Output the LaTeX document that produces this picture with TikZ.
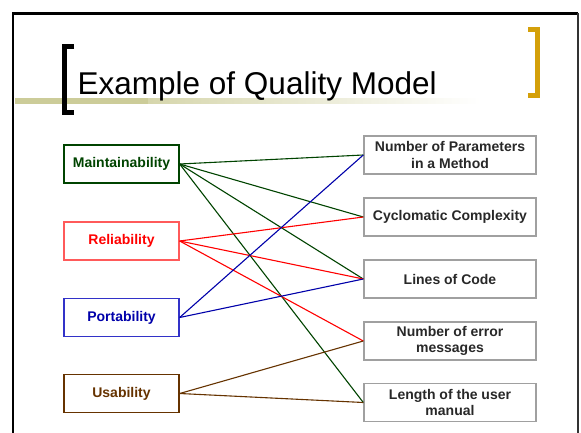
\documentclass[tikz,border=0pt]{standalone}
\usepackage{fontspec}
\setmainfont{Liberation Sans}
\begin{document}
\begin{tikzpicture}[x=1pt,y=-1pt,
  attr/.style={draw, line width=1.3pt, minimum width=115pt, minimum height=38pt,
    inner sep=0pt, font=\fontsize{14}{16.5}\selectfont\bfseries},
  metric/.style={draw=metricgray, line width=1.4pt, minimum width=172pt, minimum height=38pt,
    inner sep=0pt, align=center, text=metrictext, font=\fontsize{14}{16.5}\selectfont\bfseries},
  link/.style={line width=1.1pt}
]
\definecolor{qgreen}{RGB}{0,68,0}
\definecolor{qred}{RGB}{255,0,0}
\definecolor{qredbox}{RGB}{255,90,90}
\definecolor{qblue}{RGB}{0,0,170}
\definecolor{qbluebox}{RGB}{50,50,200}
\definecolor{qbrown}{RGB}{102,51,0}
\definecolor{metricgray}{RGB}{160,160,160}
\definecolor{metrictext}{RGB}{40,40,40}
\definecolor{khaki}{RGB}{204,204,153}
\definecolor{khakilight}{RGB}{214,214,172}
\definecolor{gold}{RGB}{212,160,10}

\useasboundingbox (0,0) rectangle (581,433);
\fill[white] (0,0) rectangle (581,433);

% slide frame
\draw[line width=2.6pt] (13,440) -- (13,13.5) -- (578,13.5);
\draw[line width=1.6pt, black!80] (578,13.5) -- (578,440);

% title underline bar
\fill[khaki] (14.5,98) rectangle (148,104);
\shade[left color=khakilight, right color=white] (148,98.5) rectangle (480,103.5);

% title brackets
\draw[line width=5pt] (74,46.5) -- (64.2,46.5) -- (64.2,112.5) -- (74,112.5);
\draw[gold, line width=5pt] (528,29.5) -- (537.5,29.5) -- (537.5,95.5) -- (528,95.5);

% title
\node[anchor=base west, inner sep=0pt, font=\fontsize{31.5}{37}\selectfont] (title) at (77.5,95) {Example of Quality Model};

% quality attributes
\node[attr, draw=qgreen, text=qgreen] (maint) at (121.5,164) {Maintainability};
\node[attr, draw=qredbox, text=qred] (rel) at (121.5,241) {Reliability};
\node[attr, draw=qbluebox, text=qblue] (port) at (121.5,317.5) {Portability};
\node[attr, draw=qbrown, text=qbrown] (usab) at (121.5,393.5) {Usability};

% metrics
\node[metric] (params) at (450,155) {Number of Parameters\\in a Method};
\node[metric] (cyclo) at (450,217) {Cyclomatic Complexity};
\node[metric] (loc) at (450,279) {Lines of Code};
\node[metric] (errmsg) at (450,341) {Number of error\\messages};
\node[metric] (manual) at (450,402.5) {Length of the user\\manual};

% links
\draw[link, draw=qgreen] (maint.east) -- (params.west);
\draw[link, draw=qgreen] (maint.east) -- (cyclo.west);
\draw[link, draw=qgreen] (maint.east) -- (loc.west);
\draw[link, draw=qgreen] (maint.east) -- (manual.west);
\draw[link, draw=qred] (rel.east) -- (cyclo.west);
\draw[link, draw=qred] (rel.east) -- (loc.west);
\draw[link, draw=qred] (rel.east) -- (errmsg.west);
\draw[link, draw=qblue] (port.east) -- (params.west);
\draw[link, draw=qblue] (port.east) -- (loc.west);
\draw[link, draw=qbrown] (usab.east) -- (errmsg.west);
\draw[link, draw=qbrown] (usab.east) -- (manual.west);
\end{tikzpicture}
\end{document}
